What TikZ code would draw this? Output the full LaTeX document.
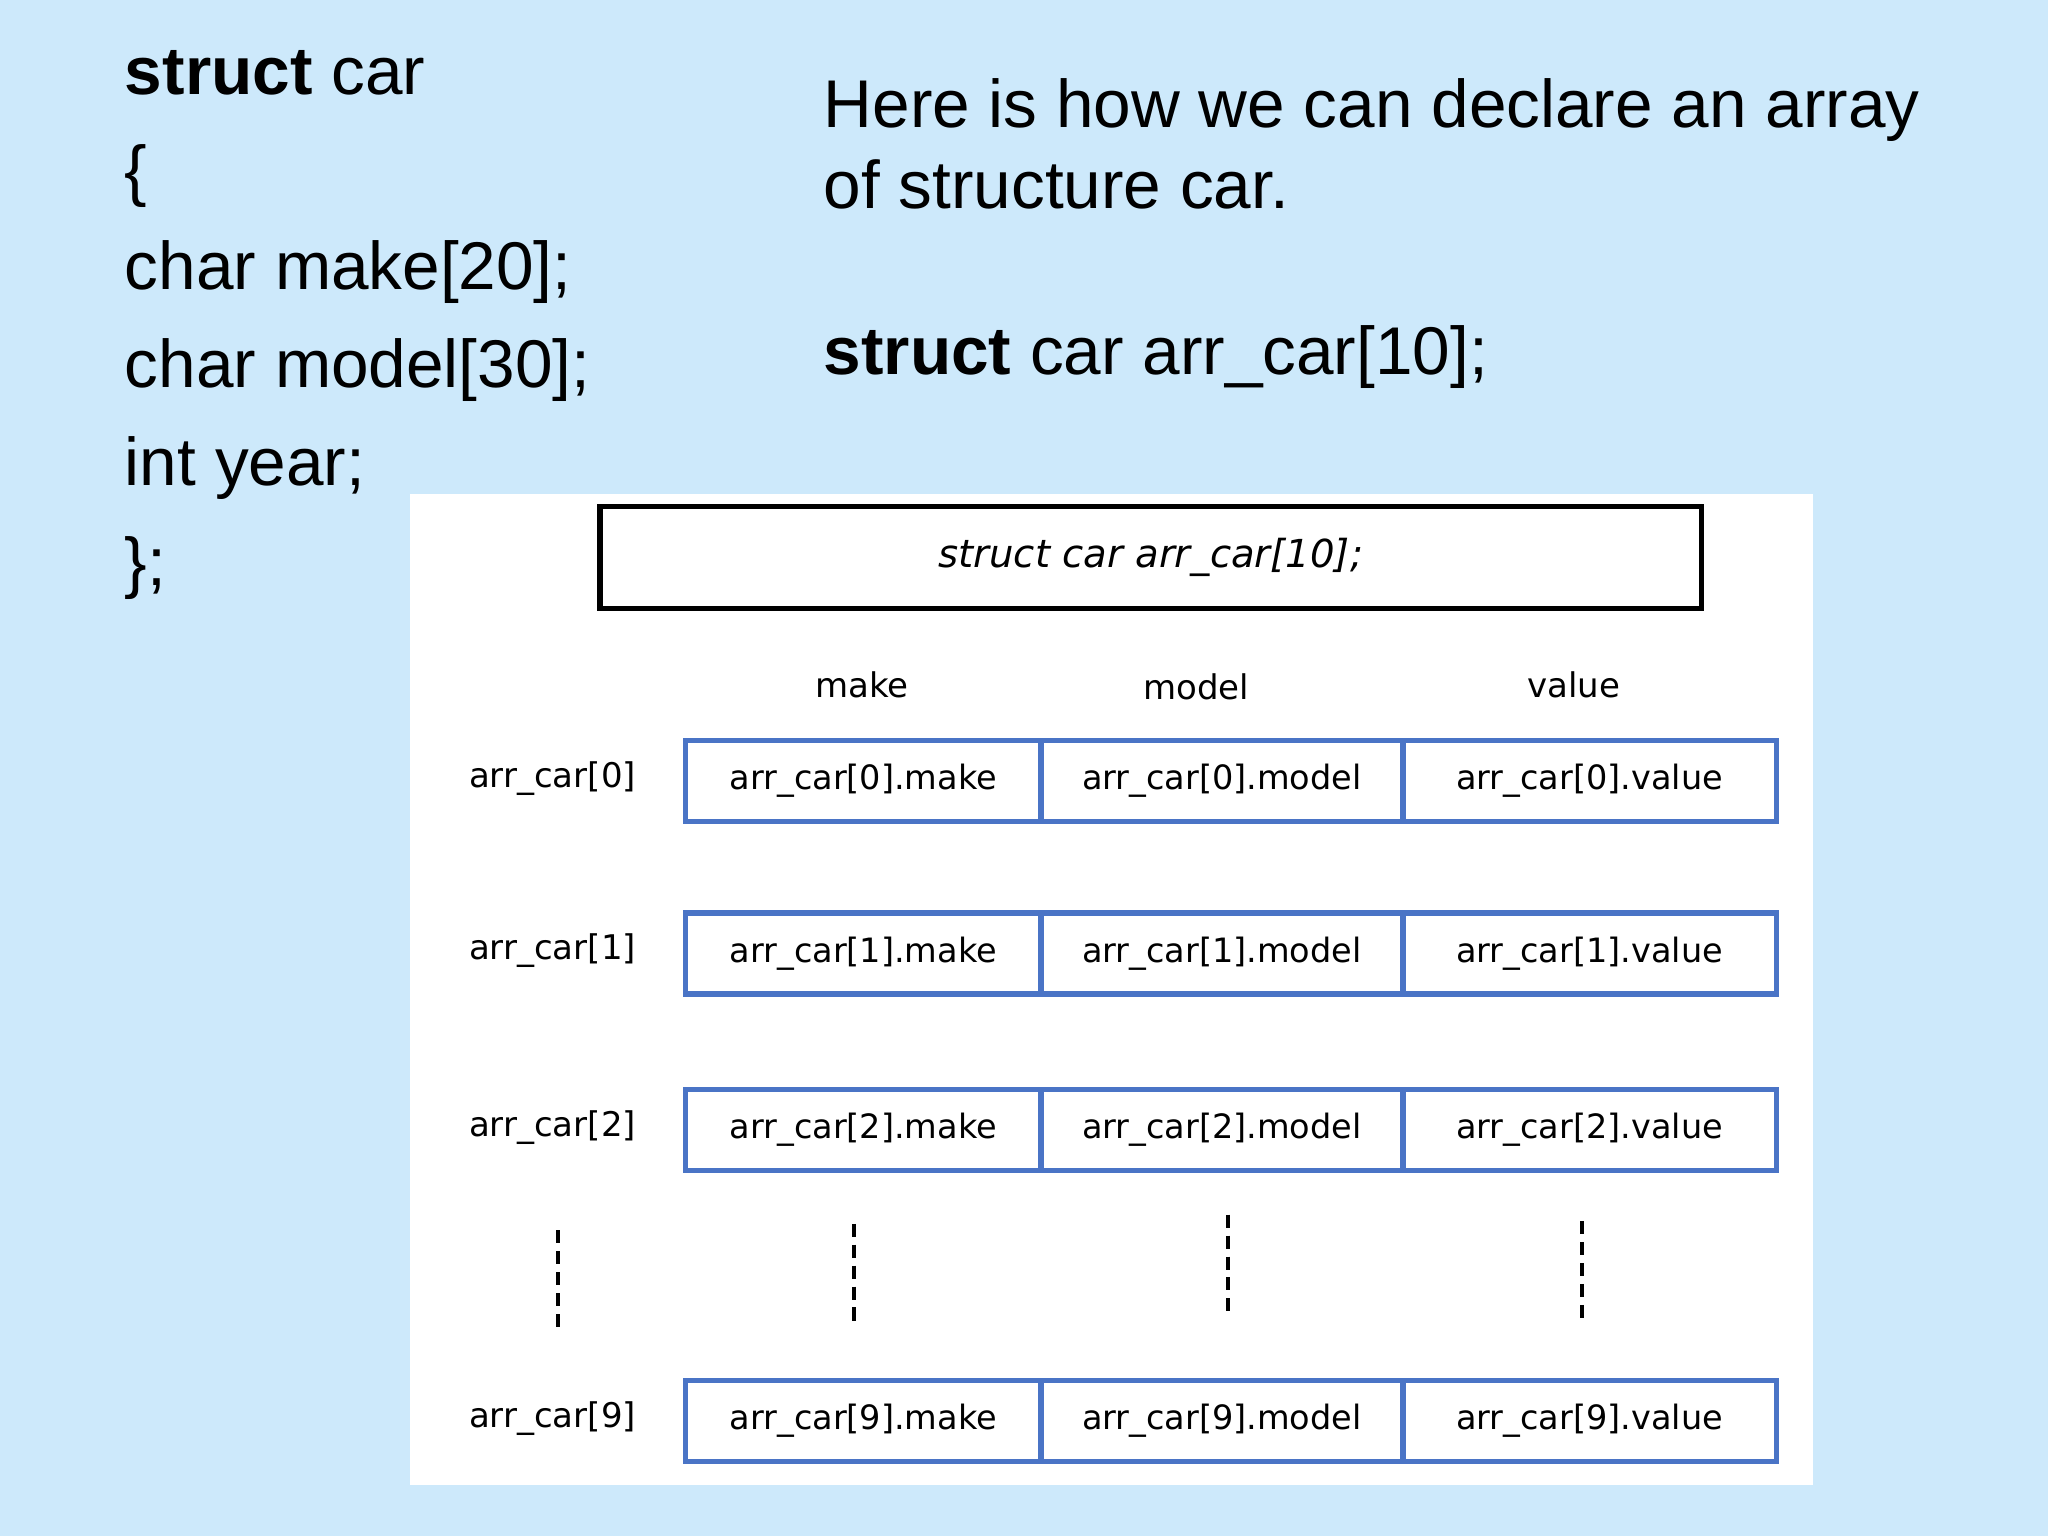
\documentclass[tikz,border=0pt]{standalone}
\usepackage{fontspec}
\setmainfont{Liberation Sans}
\newfontfamily\dv{DejaVu Sans}
\definecolor{bg}{HTML}{CDE9FB}
\definecolor{cellblue}{HTML}{4A74C6}
\tikzset{
 big/.style={anchor=base west,inner sep=0pt,font=\fontsize{14.7pt}{17pt}\selectfont},
 cell/.style={draw=cellblue,line width=1.2pt,minimum height=0.62cm,inner sep=0pt,font=\dv\fontsize{7.3pt}{9pt}\selectfont},
 lab/.style={font=\dv\fontsize{7.4pt}{9pt}\selectfont,inner sep=0pt},
 dots/.style={line width=0.9pt,dash pattern=on 0.1cm off 0.06cm}
}
\begin{document}
\begin{tikzpicture}[x=0.01cm,y=-0.01cm]
\fill[bg] (0,0) rectangle (1568,1176);
\node[big] (l1) at (95,72) {\textbf{struct} car};
\node[big] (l2) at (95,148) {\{};
\node[big] (l3) at (95,222) {char make[20];};
\node[big] (l4) at (95,297) {char model[30];};
\node[big] (l5) at (95,372) {int year;};
\node[big] (l6) at (95,448) {\};};
\node[big] (r1) at (630,98) {Here is how we can declare an array};
\node[big] (r2) at (630,160) {of structure car.};
\node[big] (r3) at (630,287) {\textbf{struct} car arr\_car[10];};
\fill[white] (314,378) rectangle (1388,1137);
\node[draw,line width=1.2pt,minimum width=8.43cm,minimum height=0.78cm,font=\dv\itshape\fontsize{8.4pt}{10pt}\selectfont] (title) at (881,427) {struct car arr\_car[10];};
\node[lab] (h1) at (660,524) {make};
\node[lab] (h2) at (916,526) {model};
\node[lab] (h3) at (1205,524) {value};
\foreach \i/\y in {0/598,1/730,2/865,9/1088}{
 \node[lab] (rl\i) at (423,\y-2) {arr\_car[\i]};
 \node[cell,minimum width=2.72cm] (m\i) at (661,\y) {arr\_car[\i].make};
 \node[cell,minimum width=2.77cm] (d\i) at (935.5,\y) {arr\_car[\i].model};
 \node[cell,minimum width=2.86cm] (v\i) at (1217,\y) {arr\_car[\i].value};
}
\draw[dots] (427,942) -- (427,1022);
\draw[dots] (654,937) -- (654,1015);
\draw[dots] (940,930) -- (940,1008);
\draw[dots] (1211,935) -- (1211,1013);
\end{tikzpicture}
\end{document}
